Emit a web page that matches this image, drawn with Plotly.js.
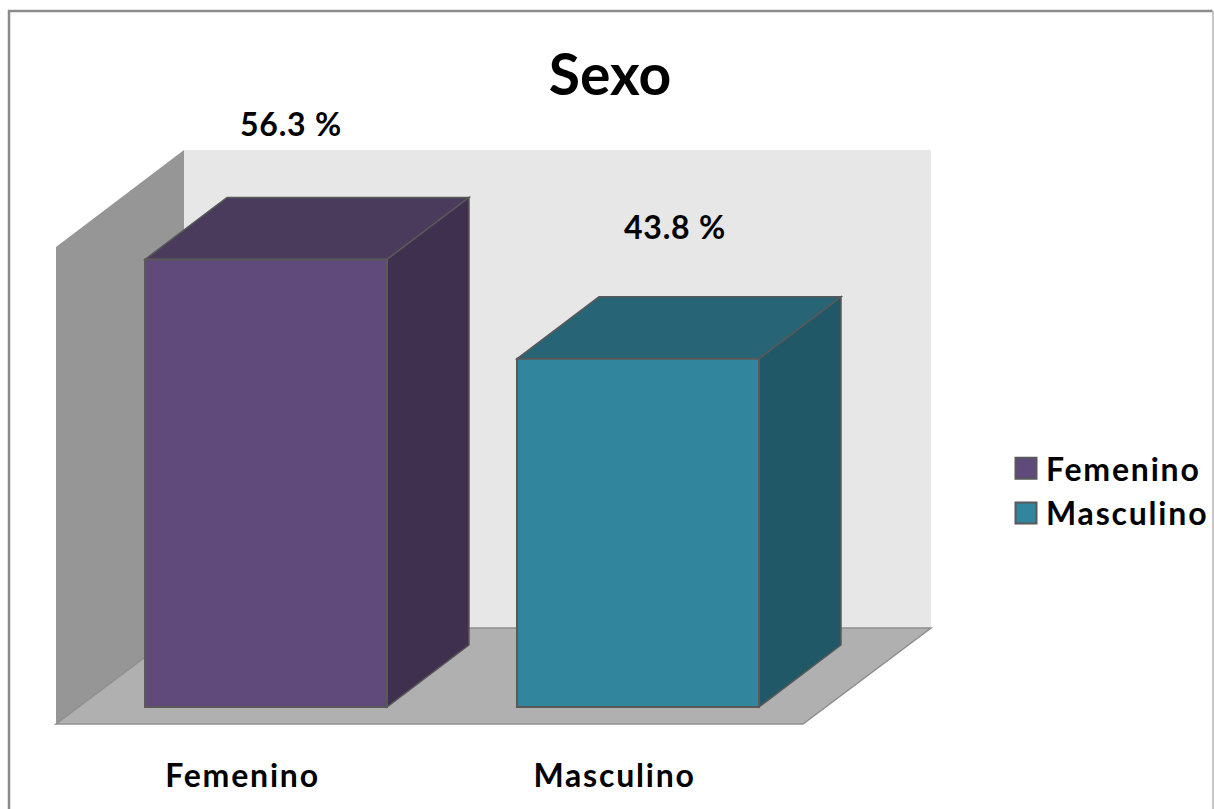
<!DOCTYPE html>
<html>
<head>
<meta charset="utf-8">
<script src="https://cdn.plot.ly/plotly-3.0.1.min.js"></script>
<style>
html,body{margin:0;padding:0;background:#fff}#chart{width:1214px;height:809px}
.xtick text,.legendtext{letter-spacing:1.8px}
.annotation-text{letter-spacing:0.8px}
</style>
</head>
<body>
<div id="chart"></div>
<script>
const categories = ['Femenino', 'Masculino'];
const values = [56.3, 43.8];
const chartTitle = 'Sexo';
const labelSuffix = ' %';

const frontColors = ['#604a7b', '#31859c'];
const topColors = ['#4a3a5c', '#276475'];
const sideColors = ['#3f3050', '#215868'];
const edgeColor = '#595959';
const labelShiftX = [25, 37];
const labelShiftY = [-136, -132];

const FONT = 'Lato, Carlito, Calibri, sans-serif';
const L = 56, R = 931, T = 150, B = 724, PW = 1214, PH = 809;
const barGap = 372, barPx = 242, zeroLeft = 266, zeroY = 707, unitPx = 7.95;
const depthX = 82 / barGap, depthY = 62 / unitPx, barW = barPx / barGap;

const px = x => (x - L) / (R - L);
const py = y => (B - y) / (B - T);
const poly = pts => 'M' + pts.map(p => p[0] + ',' + p[1]).join('L') + 'Z';

const shapes = [];
// page frame
shapes.push({type:'path', xref:'paper', yref:'paper', layer:'below',
  path:'M' + px(9) + ',' + py(811) + 'L' + px(9) + ',' + py(11) + 'L' + px(1212.5) + ',' + py(11),
  line:{color:'#8c8c8c', width:2.5}});
shapes.push({type:'line', xref:'paper', yref:'paper', layer:'below',
  x0:px(1213), x1:px(1213), y0:py(11), y1:py(811), line:{color:'#b4b4b4', width:1.5}});
// back wall, left wall, floor
shapes.push({type:'path', xref:'paper', yref:'paper', layer:'below',
  path:poly([[px(184),py(150)],[px(931),py(150)],[px(931),py(628)],[px(184),py(628)]]),
  fillcolor:'#e7e7e7', line:{width:0}});
shapes.push({type:'path', xref:'paper', yref:'paper', layer:'below',
  path:poly([[px(56),py(724)],[px(56),py(247)],[px(184),py(150)],[px(184),py(628)]]),
  fillcolor:'#969696', line:{width:0}});
shapes.push({type:'path', xref:'paper', yref:'paper', layer:'below',
  path:poly([[px(56),py(724)],[px(803),py(724)],[px(931),py(628)],[px(184),py(628)]]),
  fillcolor:'#b0b0b0', line:{color:'#8f8f8f', width:1.5}});
// extruded faces of every bar, derived from its value
values.forEach((v, i) => {
  const x0 = i - barW / 2, x1 = i + barW / 2;
  shapes.push({type:'path', xref:'x', yref:'y', layer:'below',
    path:poly([[x0,v],[x1,v],[x1+depthX,v+depthY],[x0+depthX,v+depthY]]),
    fillcolor:topColors[i], line:{color:edgeColor, width:1.5}});
  shapes.push({type:'path', xref:'x', yref:'y', layer:'below',
    path:poly([[x1,0],[x1,v],[x1+depthX,v+depthY],[x1+depthX,depthY]]),
    fillcolor:sideColors[i], line:{color:edgeColor, width:1.5}});
});

const traces = categories.map((c, i) => ({
  type:'bar', name:c, x:[i], y:[values[i]], width:barW,
  marker:{color:frontColors[i], line:{color:edgeColor, width:2}},
  hoverinfo:'name+y'
}));

const annotations = values.map((v, i) => ({
  x:i, y:v, xref:'x', yref:'y', text:v.toFixed(1) + labelSuffix, showarrow:false,
  xshift:labelShiftX[i], yshift:-labelShiftY[i], xanchor:'center', yanchor:'middle',
  font:{family:FONT, size:32, color:'#000', weight:700}
}));

const layout = {
  width:PW, height:PH, autosize:false,
  paper_bgcolor:'#fff', plot_bgcolor:'rgba(0,0,0,0)',
  margin:{l:L, r:PW - R, t:T, b:PH - B, pad:0, autoexpand:false},
  title:{text:chartTitle, xref:'container', yref:'container', x:610/PW, y:1 - 75/PH,
    xanchor:'center', yanchor:'middle', font:{family:FONT, size:57, color:'#000', weight:700}},
  barmode:'overlay',
  xaxis:{range:[(L - zeroLeft)/barGap, (R - zeroLeft)/barGap], fixedrange:true, showgrid:false,
    zeroline:false, showline:false, ticks:'',
    tickvals:categories.map((c, i) => i - 0.063), ticktext:categories,
    ticklabelstandoff:30, tickfont:{family:FONT, size:32, color:'#000', weight:700}},
  yaxis:{range:[(zeroY - B)/unitPx, (zeroY - T)/unitPx], fixedrange:true, visible:false},
  showlegend:true,
  legend:{x:(1006 - L)/(R - L), xanchor:'left', y:py(491), yanchor:'middle',
    bgcolor:'rgba(0,0,0,0)', itemclick:false, itemdoubleclick:false, tracegroupgap:0,
    font:{family:FONT, size:32, color:'#000', weight:700}},
  shapes:shapes, annotations:annotations
};

Plotly.newPlot('chart', traces, layout, {displayModeBar:false, responsive:false}).then(gd => {
  gd.querySelectorAll('.legend .legendpoints path').forEach(p => {
    p.setAttribute('d', 'M10.5,10.5H-10.5V-10.5H10.5Z');
  });
});
</script>
</body>
</html>
